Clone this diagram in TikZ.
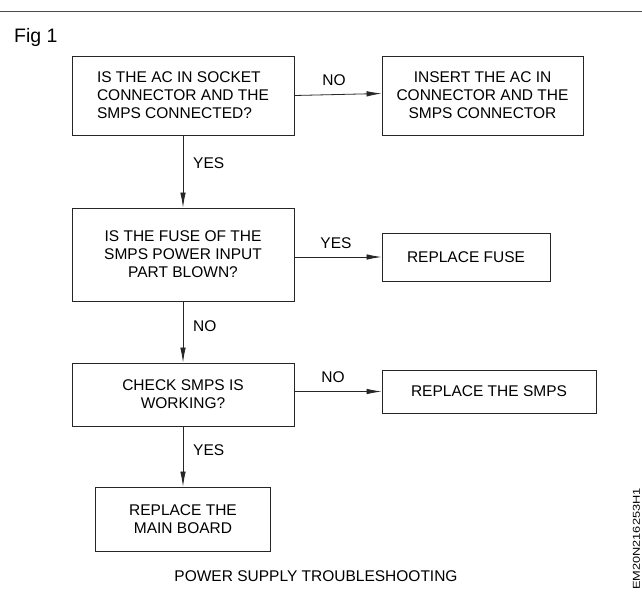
\documentclass[tikz,border=0pt]{standalone}
\usepackage{fontspec}
\setmainfont{Liberation Sans}
\usetikzlibrary{arrows.meta}
\begin{document}
\begin{tikzpicture}[x=1pt,y=-1pt,
  box/.style={draw=black!85, line width=0.9pt, rectangle, inner sep=0pt, align=center,
    font=\fontsize{15.5}{18}\selectfont},
  lbl/.style={font=\fontsize{15.5}{18}\selectfont, inner sep=0pt},
  arr/.style={draw=black!85, line width=0.8pt, -{Latex[length=15pt,width=5.5pt]}}]
\useasboundingbox (0,0) rectangle (642,592);
\fill[white] (0,0) rectangle (642,592);
\draw[black!70, line width=1pt] (0,11) -- (642,11);
\node[lbl, anchor=west, font=\fontsize{19.5}{22}\selectfont] (fig) at (14,37) {Fig 1};
\node[box, minimum width=222pt, minimum height=79pt, align=left] (b1) at (183,95.5)
  {IS THE AC IN SOCKET\\CONNECTOR AND THE\\SMPS CONNECTED?};
\node[box, minimum width=201pt, minimum height=79pt] (b2) at (482.5,95.5)
  {INSERT THE AC IN\\CONNECTOR AND THE\\SMPS CONNECTOR};
\node[box, minimum width=222pt, minimum height=93pt] (b3) at (183,254.5)
  {IS THE FUSE OF THE\\SMPS POWER INPUT\\PART BLOWN?};
\node[box, minimum width=168pt, minimum height=48pt] (f) at (466,257)
  {REPLACE FUSE};
\node[box, minimum width=222pt, minimum height=63pt] (b4) at (183,394.5)
  {CHECK SMPS IS\\WORKING?};
\node[box, minimum width=214pt, minimum height=43pt] (s) at (489,391.5)
  {REPLACE THE SMPS};
\node[box, minimum width=174.5pt, minimum height=64pt] (b5) at (183,519)
  {REPLACE THE\\MAIN BOARD};
\draw[arr] (b1.east) -- ([yshift=2pt]b2.west);
\draw[arr] (b1.south) -- (b3.north);
\draw[arr] (b3.east |- f.west) -- (f.west);
\draw[arr] (b3.south) -- (b4.north);
\draw[arr] (b4.east |- s.west) -- (s.west);
\draw[arr] (b4.south) -- (b5.north);
\node[lbl] (no1) at (334,80) {NO};
\node[lbl, anchor=west] (yes1) at (193,163) {YES};
\node[lbl] (yes2) at (336,243) {YES};
\node[lbl, anchor=west] (no2) at (193,326) {NO};
\node[lbl] (no3) at (333,377) {NO};
\node[lbl, anchor=west] (yes3) at (193,450) {YES};
\node[lbl] (cap) at (316,576) {POWER SUPPLY TROUBLESHOOTING};
\node[inner sep=0pt, rotate=90, anchor=east, font=\fontsize{10}{10}\selectfont] (code) at (636.5,488)
  {\scalebox{1.28}[1]{EM20N216253H1}};
\end{tikzpicture}
\end{document}
